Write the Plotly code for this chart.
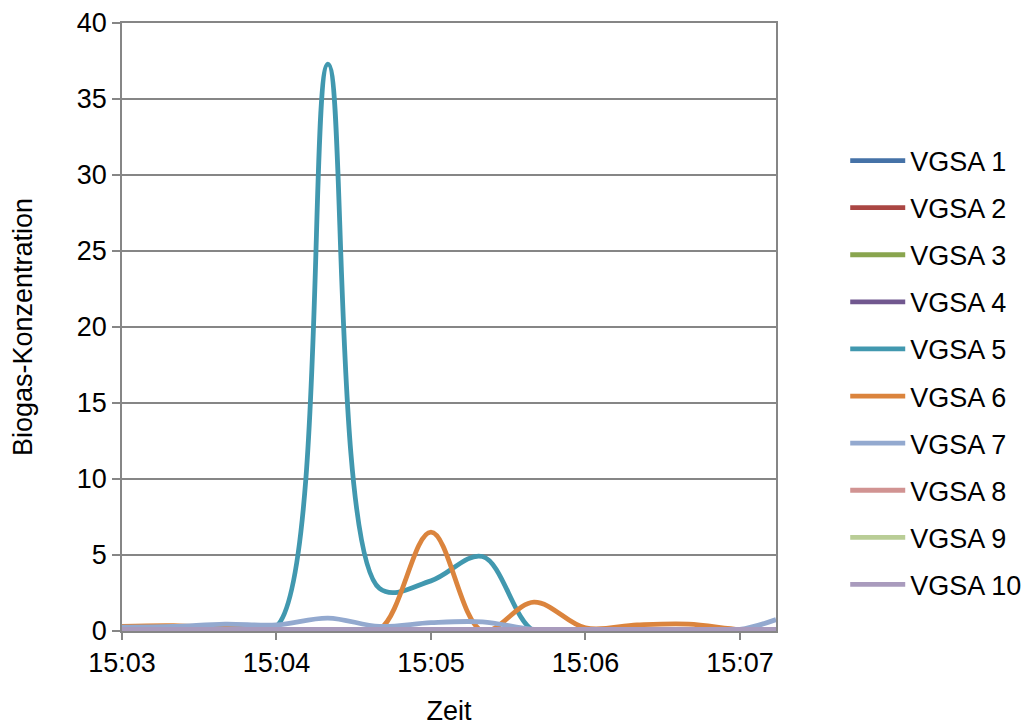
import plotly.graph_objects as go

# Sample times (every 20 s, last reading at 15:07:14)
zeiten = [
    "2000-01-01 15:03:00", "2000-01-01 15:03:20", "2000-01-01 15:03:40",
    "2000-01-01 15:04:00", "2000-01-01 15:04:20", "2000-01-01 15:04:40",
    "2000-01-01 15:05:00", "2000-01-01 15:05:20", "2000-01-01 15:05:40",
    "2000-01-01 15:06:00", "2000-01-01 15:06:20", "2000-01-01 15:06:40",
    "2000-01-01 15:07:00", "2000-01-01 15:07:14",
]

vgsa_1 = [0.05, 0.05, 0.05, 0.05, 0.05, 0.05, 0.05, 0.05, 0.05, 0.05, 0.05, 0.05, 0.05, 0.05]
vgsa_2 = [0.05, 0.05, 0.05, 0.05, 0.05, 0.05, 0.05, 0.05, 0.05, 0.05, 0.05, 0.05, 0.05, 0.05]
vgsa_3 = [0.05, 0.05, 0.05, 0.05, 0.05, 0.05, 0.05, 0.05, 0.05, 0.05, 0.05, 0.05, 0.05, 0.05]
vgsa_4 = [0.05, 0.05, 0.05, 0.05, 0.05, 0.05, 0.05, 0.05, 0.05, 0.05, 0.05, 0.05, 0.05, 0.05]
vgsa_5 = [0.3, 0.3, 0.3, 0.3, 37.3, 2.8, 3.3, 4.9, 0.0, 0.05, 0.05, 0.05, 0.1, 0.1]
vgsa_6 = [0.3, 0.35, 0.2, 0.1, 0.05, 0.1, 6.5, 0.0, 1.9, 0.2, 0.4, 0.45, 0.1, 0.05]
vgsa_7 = [0.25, 0.3, 0.45, 0.4, 0.85, 0.3, 0.55, 0.6, 0.1, 0.1, 0.1, 0.1, 0.1, 0.75]
vgsa_8 = [0.0, 0.0, 0.0, 0.0, 0.0, 0.0, 0.0, 0.0, 0.0, 0.0, 0.0, 0.0, 0.0, 0.0]
vgsa_9 = [0.05, 0.05, 0.05, 0.05, 0.05, 0.05, 0.05, 0.05, 0.05, 0.05, 0.05, 0.05, 0.05, 0.05]
vgsa_10 = [0.1, 0.1, 0.1, 0.1, 0.1, 0.1, 0.1, 0.1, 0.1, 0.1, 0.1, 0.1, 0.1, 0.1]

namen = ["VGSA 1", "VGSA 2", "VGSA 3", "VGSA 4", "VGSA 5",
         "VGSA 6", "VGSA 7", "VGSA 8", "VGSA 9", "VGSA 10"]
reihen = [vgsa_1, vgsa_2, vgsa_3, vgsa_4, vgsa_5,
          vgsa_6, vgsa_7, vgsa_8, vgsa_9, vgsa_10]
farben = ["#4572A7", "#AA4643", "#89A54E", "#71588F", "#4198AF",
          "#DB843D", "#93A9CF", "#D19392", "#B9CD96", "#A99BBD"]

FONT = "Liberation Sans, Arial, sans-serif"
GRAU = "#868686"

fig = go.Figure()
for i, (name, werte, farbe) in enumerate(zip(namen, reihen, farben)):
    fig.add_trace(go.Scatter(
        x=zeiten, y=werte, name=name, mode="lines",
        line=dict(color=farbe, width=4.8, shape="spline", smoothing=1.0),
        legendgroup=f"g{i}",
    ))

fig.update_layout(
    width=1027, height=726,
    margin=dict(l=122, r=251, t=23, b=95, autoexpand=False),
    paper_bgcolor="white", plot_bgcolor="white",
    font=dict(family=FONT, size=27, color="black"),
    showlegend=True,
    legend=dict(
        x=0.823, xref="container", xanchor="left",
        y=0.812, yref="container", yanchor="top",
        font=dict(size=27), tracegroupgap=9, maxheight=700,
        bgcolor="rgba(0,0,0,0)", itemwidth=55,
    ),
    xaxis=dict(
        type="date",
        range=["2000-01-01 15:03:00", "2000-01-01 15:07:14"],
        tickformat="%H:%M", dtick=60000, tick0="2000-01-01 15:03:00",
        showgrid=False, showline=True, linecolor=GRAU, linewidth=1.5,
        mirror=True, ticks="outside", ticklen=7, tickcolor=GRAU, tickwidth=1.5,
        title=dict(text="Zeit", font=dict(size=27), standoff=28),
        tickfont=dict(size=27), automargin=False,
    ),
    yaxis=dict(
        range=[0, 40], dtick=5, tick0=0,
        showgrid=True, gridcolor=GRAU, gridwidth=1.5,
        showline=True, linecolor=GRAU, linewidth=1.5, mirror=True,
        ticks="outside", ticklen=8, tickcolor=GRAU, tickwidth=1.5,
        zeroline=False,
        title=dict(text="Biogas-Konzentration", font=dict(size=27), standoff=36),
        tickfont=dict(size=27), automargin=False,
    ),
)

fig.write_html("out.html")
